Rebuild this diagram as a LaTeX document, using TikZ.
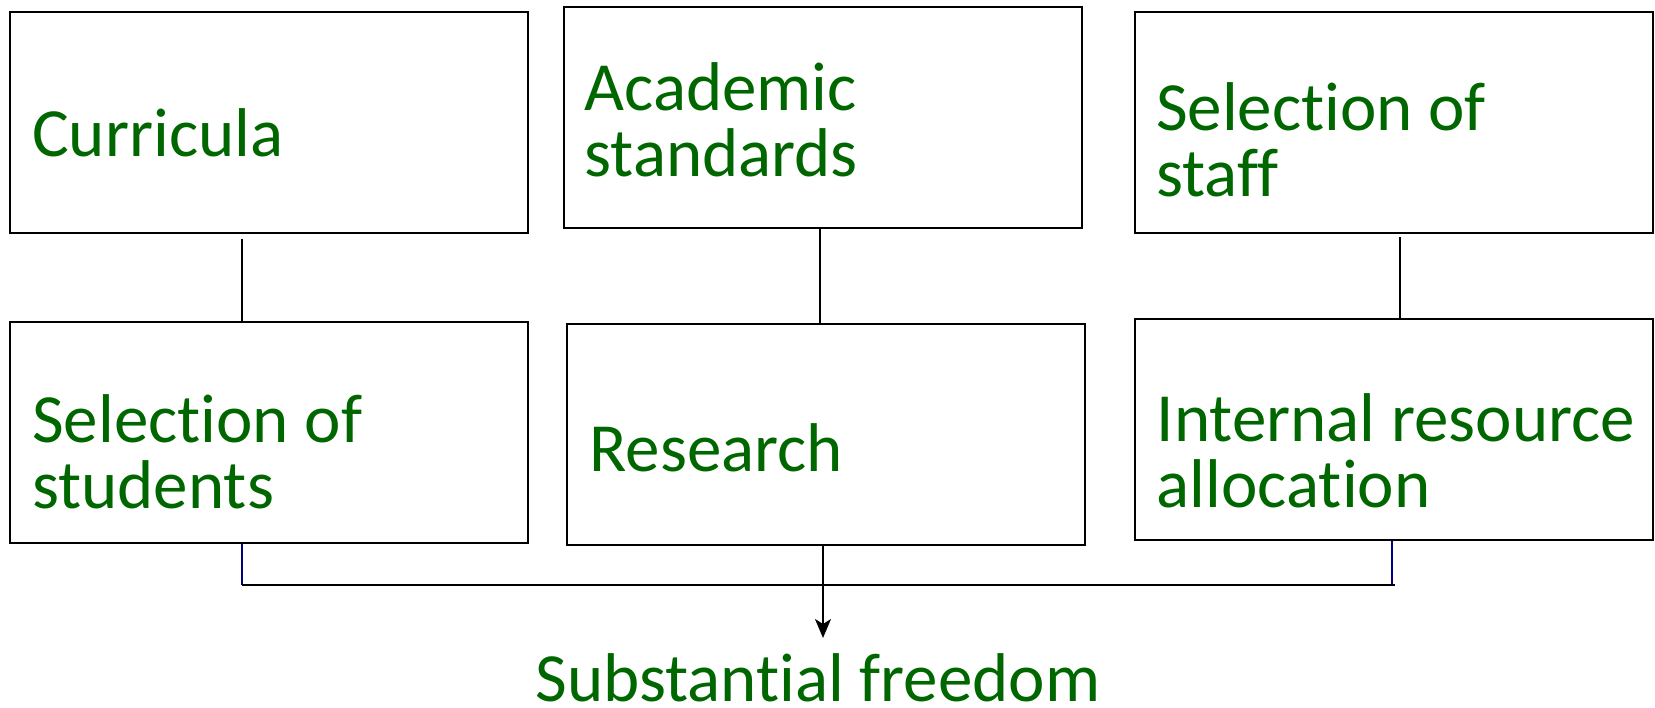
\documentclass[tikz,border=0pt]{standalone}
\usepackage{fontspec}
\setmainfont{Carlito}[Ligatures=NoCommon]
\usepackage{xcolor}
\usetikzlibrary{arrows.meta}
\definecolor{textgreen}{RGB}{0,102,0}
\definecolor{linknavy}{RGB}{0,0,128}

\begin{document}
\begin{tikzpicture}[x=1pt,y=-1pt,
            box/.style = {draw,
                        line width=2pt,
                        minimum width=518pt,
                        minimum height=221pt,
                        inner sep=0pt},
            txt/.style = {anchor=base west,
                        inner sep=0pt,
                        align=left,
                        text=textgreen,
                        font=\fontsize{69}{66}\selectfont},
            link/.style = {line width=1.6pt}]
            \useasboundingbox (0,0) rectangle (1655,707);
            % Top row
            \node[box] (cur) at (269.2,122.8) {};
            \node[box] (aca) at (822.9,117.4) {};
            \node[box] (staff) at (1393.8,122.5) {};
            % Bottom row
            \node[box] (stud) at (269.4,432.8) {};
            \node[box] (res) at (825.6,434.8) {};
            \node[box] (alloc) at (1393.8,429.6) {};
            % Box texts (placed at the baseline of the last line)
            \node[txt] (curT) at (32,156) {Curricula};
            \node[txt] (acaT) at (584.3,176.7) {Academic\\standards};
            \node[txt] (staffT) at (1155.8,196.7) {Selection of\\staff};
            \node[txt] (studT) at (32,508) {Selection of\\students};
            \node[txt] (resT) at (589.4,471.7) {Research};
            \node[txt] (allocT) at (1156.7,507) {Internal resource\\allocation};
            % Links between the rows
            \draw[link, shorten <=5pt] (242,0 |- cur.south) -- (242,0 |- stud.north);
            \draw[link] (820,0 |- aca.south) -- (820,0 |- res.north);
            \draw[link, shorten <=3pt] (1400,0 |- staff.south) -- (1400,0 |- alloc.north);
            % Joining bar and arrow
            \coordinate (jl) at (242,585);
            \coordinate (jr) at (1395,585);
            \coordinate (tip) at (823,638);
            \draw[line width=1.2pt, draw=linknavy] (jl |- stud.south) -- (jl);
            \draw[line width=1.2pt, draw=linknavy] (1392,0 |- alloc.south) -- (1392,585);
            \draw[line width=2.8pt] (jl) -- (jr);
            \draw[link, -{Stealth[length=19pt,width=16pt,inset=5pt]}] (tip |- res.south) -- (tip);
            % Result
            \node[txt, anchor=base] (free) at (818,701) {Substantial freedom};
        \end{tikzpicture}
\end{document}
